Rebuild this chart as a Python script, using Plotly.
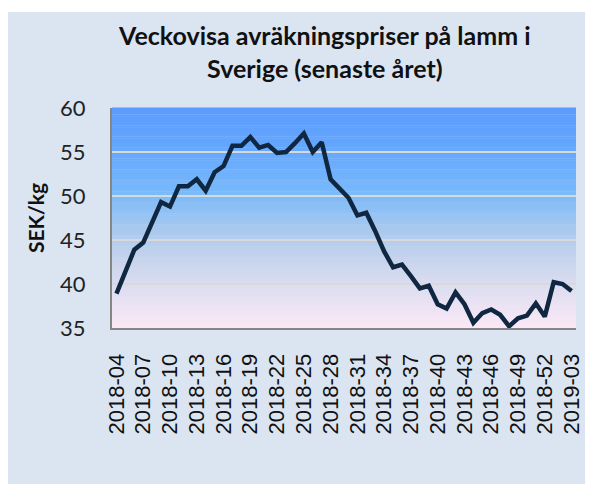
import plotly.graph_objects as go

weeks = ([f"2018-{w:02d}" for w in range(4, 53)] + [f"2019-{w:02d}" for w in range(1, 4)])
prices = [38.9, 41.4, 43.9, 44.7, 46.9, 49.3, 48.8, 51.1, 51.1, 51.9,
          50.6, 52.7, 53.4, 55.7, 55.7, 56.7, 55.5, 55.8, 54.9, 55.0,
          56.0, 57.1, 55.0, 56.1, 51.9, 50.9, 49.8, 47.8, 48.1, 46.0,
          43.7, 41.9, 42.2, 40.9, 39.5, 39.8, 37.7, 37.2, 39.05, 37.7,
          35.6, 36.7, 37.1, 36.5, 35.2, 36.1, 36.4, 37.8, 36.3, 40.2,
          40.0, 39.2]
tick_labels = weeks[::3]
y_ticks = [35, 40, 45, 50, 55, 60]
title_text = "<b>Veckovisa avräkningspriser på lamm i<br>Sverige (senaste året)</b>"

fig = go.Figure()
fig.add_trace(go.Scatter(x=weeks, y=prices, mode="lines",
                         line=dict(color="#0f2741", width=4.5),
                         hoverinfo="x+y"))

# gradient plot background built from thin strips
stops = [(0.0, (91, 155, 255)), (0.2, (101, 168, 254)), (0.4, (122, 186, 250)),
         (0.55, (168, 200, 238)), (0.7, (200, 212, 236)), (0.82, (222, 222, 241)),
         (1.0, (251, 232, 246))]

def col(t):
    for (a, ca), (b, cb) in zip(stops[:-1], stops[1:]):
        if a <= t <= b:
            f = (t - a) / (b - a)
            return "rgb(%d,%d,%d)" % tuple(round(ca[i] + (cb[i] - ca[i]) * f) for i in range(3))
    return "rgb(%d,%d,%d)" % stops[-1][1]

# thin white strip at the very top of the figure
shapes = [dict(type="rect", xref="paper", yref="paper", x0=-0.3, x1=1.1,
               y0=1.436, y1=1.6, fillcolor="white", line=dict(width=0),
               layer="below")]
n = 100
for k in range(n):
    t0 = k / n
    t1 = (k + 1) / n
    shapes.append(dict(type="rect", xref="x domain", yref="y domain",
                       x0=0, x1=1, y0=1 - t1, y1=1 - t0 + 0.002,
                       fillcolor=col((t0 + t1) / 2), line=dict(width=0),
                       layer="below"))

fig.update_layout(
    width=585, height=476,
    margin=dict(l=104, r=17, t=100, b=156, autoexpand=False),
    paper_bgcolor="#dbe5f1",
    plot_bgcolor="rgba(0,0,0,0)",
    showlegend=False,
    shapes=shapes,
    annotations=[dict(text=title_text, xref="paper", yref="paper",
                      x=0.457, y=1.257, xanchor="center", yanchor="middle",
                      showarrow=False, align="center",
                      font=dict(family="Lato", size=25, color="#111111"))],
    xaxis=dict(type="category", tickmode="array", tickvals=tick_labels,
               ticktext=tick_labels, tickangle=-90, automargin=False,
               tickfont=dict(family="Liberation Sans", size=22, color="#111111"),
               showline=True, linecolor="#868686", linewidth=2,
               showgrid=False, ticks="outside", ticklen=15,
               tickcolor="rgba(0,0,0,0)", range=[-0.5, 51.5]),
    yaxis=dict(range=[35, 60], tickvals=y_ticks, automargin=False,
               tickfont=dict(family="Lato", size=22, color="#222222"),
               showline=True, linecolor="#868686", linewidth=2,
               showgrid=True, gridcolor="#d9d9d9", gridwidth=2,
               ticks="outside", ticklen=20, tickcolor="rgba(0,0,0,0)",
               zeroline=False,
               title=dict(text="<b>SEK/kg</b>", standoff=10,
                          font=dict(family="Lato", size=21, color="#111111"))),
)

fig.write_html("out.html")
